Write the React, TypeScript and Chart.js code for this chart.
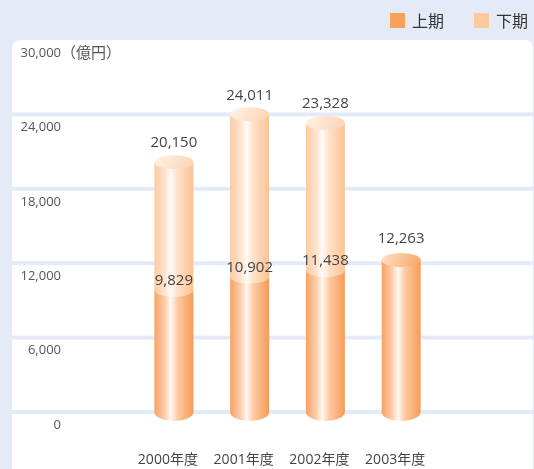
import React, { useEffect, useRef } from 'react';
import { Chart, registerables } from 'chart.js';

Chart.register(...registerables);

const categories = ['2000年度', '2001年度', '2002年度', '2003年度'];
const firstHalf: (number | null)[] = [9829, 10902, 11438, 12263];
const secondHalf: (number | null)[] = [10321, 13109, 11890, null];
const totals: (number | null)[] = [20150, 24011, 23328, null];
const yTicks = [0, 6000, 12000, 18000, 24000, 30000];
const yUnit = '（億円）';
const seriesNames = ['上期', '下期'];
const seriesColors = ['#f9a05a', '#fec99e'];

const NUM_FONT = '"Open Sans", "Noto Sans CJK JP", sans-serif';
const RY = 7;

const fmt = (v: number) => v.toLocaleString('en-US');

function bodyGradient(ctx: CanvasRenderingContext2D, left: number, right: number, series: number) {
  const g = ctx.createLinearGradient(left, 0, right, 0);
  if (series === 0) {
    g.addColorStop(0, '#f8a262');
    g.addColorStop(0.28, '#fcd0b0');
    g.addColorStop(0.42, '#fff8f2');
    g.addColorStop(0.6, '#fdcaa4');
    g.addColorStop(1, '#f79a55');
  } else {
    g.addColorStop(0, '#fdcba3');
    g.addColorStop(0.28, '#fee4d0');
    g.addColorStop(0.42, '#fffbf8');
    g.addColorStop(0.6, '#fee0c8');
    g.addColorStop(1, '#fcc293');
  }
  return g;
}

function capGradient(ctx: CanvasRenderingContext2D, left: number, right: number, cy: number, series: number) {
  const g = ctx.createLinearGradient(left, cy - RY, right, cy + RY);
  if (series === 0) {
    g.addColorStop(0, '#fde0c8');
    g.addColorStop(1, '#f9a463');
  } else {
    g.addColorStop(0, '#fff2e8');
    g.addColorStop(1, '#fdd3b1');
  }
  return g;
}

const cylinderPlugin = {
  id: 'cylinders',
  beforeDraw(chart: any) {
    const { ctx, width, height } = chart;
    const y = chart.scales.y;
    ctx.save();
    ctx.fillStyle = '#e4eaf6';
    ctx.fillRect(0, 0, width, height);
    const top = y.getPixelForValue(yTicks[yTicks.length - 1]);
    ctx.fillStyle = '#ffffff';
    ctx.beginPath();
    (ctx as any).roundRect(12, top, width - 13, height - top + 20, 8);
    ctx.fill();
    ctx.restore();
  },
  beforeDatasetsDraw(chart: any) {
    const { ctx, width } = chart;
    const y = chart.scales.y;
    ctx.save();
    ctx.fillStyle = '#e4eaf7';
    const max = yTicks[yTicks.length - 1];
    yTicks.forEach((v) => {
      if (v === max) return;
      const p = y.getPixelForValue(v);
      ctx.fillRect(12, p - 2, width - 12, 4);
    });
    ctx.restore();
  },
  afterDatasetsDraw(chart: any) {
    const { ctx } = chart;
    const metas = [chart.getDatasetMeta(0), chart.getDatasetMeta(1)];
    const seriesVals = [firstHalf, secondHalf];
    ctx.save();
    categories.forEach((_, i) => {
      for (let s = 0; s < 2; s++) {
        if (seriesVals[s][i] == null) continue;
        const el = metas[s].data[i];
        const { x, y: top, base, width } = el.getProps(['x', 'y', 'base', 'width'], true);
        const left = x - width / 2;
        const right = x + width / 2;
        const rx = width / 2;
        const bry = s === 0 ? RY + 2 : RY;
        ctx.beginPath();
        ctx.moveTo(left, top);
        ctx.lineTo(left, base);
        ctx.ellipse(x, base, rx, bry, 0, Math.PI, 0, true);
        ctx.lineTo(right, top);
        ctx.closePath();
        ctx.fillStyle = bodyGradient(ctx, left, right, s);
        ctx.fill();
        const isTop = s === 1 || seriesVals[1][i] == null;
        if (isTop) {
          ctx.beginPath();
          ctx.ellipse(x, top, rx, RY, 0, 0, Math.PI * 2);
          ctx.fillStyle = capGradient(ctx, left, right, top, s);
          ctx.fill();
        }
      }
    });
    // value labels
    ctx.fillStyle = '#444444';
    ctx.font = `15px ${NUM_FONT}`;
    ctx.textAlign = 'center';
    ctx.textBaseline = 'middle';
    categories.forEach((_, i) => {
      const el0 = metas[0].data[i];
      const v0 = firstHalf[i];
      if (v0 != null) {
        const inner = secondHalf[i] != null;
        ctx.fillText(fmt(v0), el0.x, el0.y - (inner ? 9 : 21));
      }
      const t = totals[i];
      if (t != null && secondHalf[i] != null) {
        const el1 = metas[1].data[i];
        ctx.fillText(fmt(t), el1.x, el1.y - 19);
      }
    });
    ctx.restore();
  },
  afterDraw(chart: any) {
    const { ctx } = chart;
    const y = chart.scales.y;
    ctx.save();
    // unit after top tick
    ctx.fillStyle = '#555555';
    ctx.font = `15px "Noto Sans CJK JP", sans-serif`;
    ctx.textAlign = 'left';
    ctx.textBaseline = 'middle';
    ctx.fillText(yUnit, 61, y.getPixelForValue(yTicks[yTicks.length - 1]) + 12);
    // legend
    const boxX = [390, 474];
    ctx.font = `16px "Noto Sans CJK JP", sans-serif`;
    seriesNames.forEach((name, s) => {
      ctx.fillStyle = seriesColors[s];
      ctx.fillRect(boxX[s], 13, 15, 15);
      ctx.fillStyle = '#333333';
      ctx.fillText(name, boxX[s] + 22, 21);
    });
    ctx.restore();
  },
};

export default function App() {
  const ref = useRef<HTMLCanvasElement | null>(null);
  useEffect(() => {
    document.body.style.margin = '0';
    const canvas = ref.current;
    if (!canvas) return;
    const chart = new Chart(canvas, {
      type: 'bar',
      data: {
        labels: categories,
        datasets: [
          {
            label: seriesNames[0],
            data: firstHalf,
            backgroundColor: 'rgba(0,0,0,0)',
            borderWidth: 0,
            barThickness: 39,
          },
          {
            label: seriesNames[1],
            data: secondHalf,
            backgroundColor: 'rgba(0,0,0,0)',
            borderWidth: 0,
            barThickness: 39,
          },
        ],
      },
      options: {
        animation: false,
        responsive: false,
        devicePixelRatio: 1,
        layout: { padding: { top: 40, left: 0, right: 95, bottom: 0 } },
        plugins: {
          legend: { display: false },
          tooltip: { enabled: false },
        },
        scales: {
          x: {
            stacked: true,
            grid: { display: false, drawTicks: false },
            border: { display: false },
            ticks: {
              padding: 40,
              labelOffset: -6,
              color: '#444444',
              font: { size: 14, family: NUM_FONT },
              maxRotation: 0,
            },
            afterFit: (s: any) => {
              s.height = 57;
              s.paddingLeft = 0;
              s.paddingRight = 0;
            },
          },
          y: {
            stacked: true,
            min: 0,
            max: 30000,
            grid: { display: false, drawTicks: false },
            border: { display: false },
            afterBuildTicks: (s: any) => {
              s.ticks = yTicks.map((v) => ({ value: v }));
            },
            ticks: {
              padding: 75,
              labelOffset: 13,
              color: '#555555',
              font: { size: 13, family: NUM_FONT },
              callback: (v: any) => fmt(Number(v)),
            },
            afterFit: (s: any) => {
              s.width = 136;
              s.paddingTop = 0;
              s.paddingBottom = 0;
            },
          },
        },
      },
      plugins: [cylinderPlugin],
    } as any);
    return () => chart.destroy();
  }, []);
  return (
    <div style={{ width: 534, height: 469 }}>
      <canvas ref={ref} width={534} height={469} style={{ display: 'block' }} />
    </div>
  );
}
